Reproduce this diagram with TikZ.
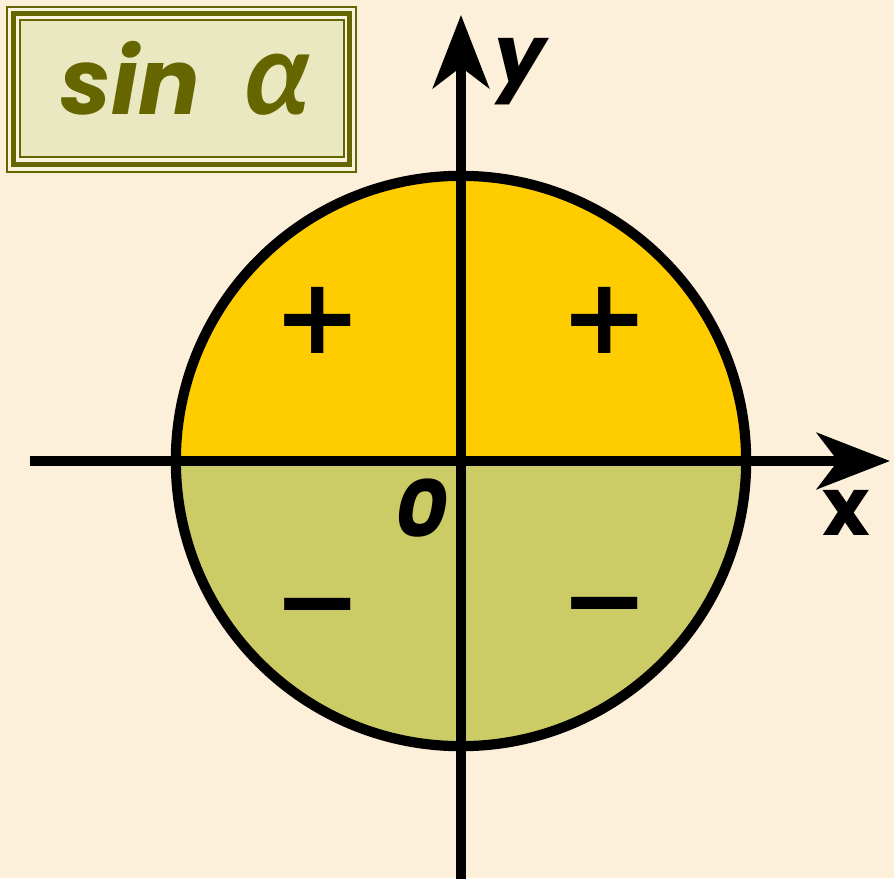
\documentclass[tikz,border=0pt]{standalone}
\usepackage{fontspec}
\setmainfont{Poppins}
\newfontfamily\greekfont{Lato}
\newfontfamily\symfont{DejaVu Sans}
\usetikzlibrary{arrows.meta}
\definecolor{bgcream}{RGB}{252,240,218}
\definecolor{upperfill}{RGB}{255,204,0}
\definecolor{lowerfill}{RGB}{204,204,102}
\definecolor{olive}{RGB}{102,102,0}
\definecolor{titlefill}{RGB}{234,232,192}
\definecolor{titlegap}{RGB}{248,244,222}
\begin{document}
\begin{tikzpicture}[x=0.01cm,y=0.01cm,
  axisline/.style={line width=2.85pt,-{Stealth[length=20.8pt,width=16pt,inset=6pt]}},
  rim/.style={line width=2.9pt},
  sign/.style={font=\symfont\bfseries\fontsize{30}{30}\selectfont,inner sep=0pt},
  axlabel/.style={font=\bfseries\fontsize{23}{23}\selectfont,inner sep=0pt,anchor=base},
]
\fill[bgcream] (-461,-417) rectangle (433,461);
\useasboundingbox (-461,-417) rectangle (433,461);
\coordinate (O) at (0,0);
% half discs
\fill[upperfill] (-285,0) arc[start angle=180,end angle=0,radius=2.85cm] -- cycle;
\fill[lowerfill] (-285,0) arc[start angle=180,end angle=360,radius=2.85cm] -- cycle;
\draw[rim] (O) circle[radius=2.85cm];
% axes
\coordinate (xs) at (-431,0);
\coordinate (xe) at (429,0);
\coordinate (ys) at (0,-420);
\coordinate (ye) at (0,446);
\draw[axisline] (xs) -- (xe);
\draw[axisline] (ys) -- (ye);
% signs
\node[sign] (p1) at (-143,141) {+};
\node[sign] (p2) at (144,141) {+};
\node[sign] (m1) at (-143,-157) {−};
\node[sign] (m2) at (144,-156) {−};
% axis labels
\node[axlabel,font=\bfseries\itshape\fontsize{23}{23}\selectfont] (ylab) at (59,377) {y};
\node[axlabel] (xlab) at (385,-74) {x};
\node[axlabel,font=\bfseries\itshape\fontsize{23}{23}\selectfont] (zero) at (-39,-76) {0};
% title box
\filldraw[fill=titlegap,draw=olive,line width=0.57pt] (-454,454) rectangle (-105,289);
\draw[olive,line width=1.42pt] (-447.5,447.5) rectangle (-111.5,296.5);
\filldraw[fill=titlefill,draw=olive,line width=0.57pt] (-441,441) rectangle (-117,304);
\node[anchor=base,text=olive,inner sep=0pt,font=\bfseries\itshape\fontsize{26}{26}\selectfont] (title) at (-275,347) {sin\hspace{0.5em}{\greekfont\fontsize{33}{33}\selectfont α}};
\end{tikzpicture}
\end{document}
